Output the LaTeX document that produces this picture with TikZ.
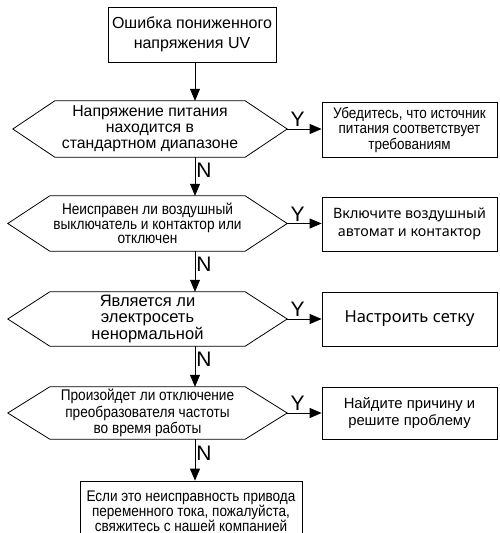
\documentclass[tikz,border=0pt]{standalone}
\usepackage{fontspec}
\setmainfont{Liberation Sans}
\newfontfamily\narrowfont[FakeStretch=0.88]{Liberation Sans}
\newfontfamily\roundfont{Noto Sans}
\usetikzlibrary{arrows.meta,calc}
\tikzset{
  procbox/.style={draw, line width=0.8pt, align=center, inner sep=0pt},
  hexbody/.style={draw=none, align=center, inner sep=0pt, minimum width=195pt},
  hexline/.style={line width=0.8pt},
  arr/.style={line width=0.8pt, -{Triangle[length=12pt,width=10pt]}},
  yn/.style={font=\fontsize{21}{21}\selectfont, inner sep=1pt},
}
\begin{document}
\begin{tikzpicture}[x=1pt,y=-1pt]
  \useasboundingbox (0,0) rectangle (499,533);
  \clip (0,0) rectangle (499,533);
  \coordinate (axis) at (195,0);

  % start box
  \node[procbox, minimum width=168pt, minimum height=55pt,
        font=\fontsize{16}{20}\selectfont] (t) at (192,34.5)
        {Ошибка пониженного\\напряжения UV};

  % decision bodies (inner rectangles of the hexagons)
  \node[hexbody, minimum width=190pt, minimum height=56pt,
        font=\fontsize{15.8}{16}\selectfont] (q1) at (150,129)
        {Напряжение питания\\находится в\\стандартном диапазоне};
  \node[hexbody, minimum height=55pt,
        font=\narrowfont\fontsize{15.5}{14.5}\selectfont] (q2) at (147.5,223.5)
        {Неисправен ли воздушный\\выключатель и контактор или\\отключен};
  \node[hexbody, minimum height=54pt,
        font=\fontsize{16.5}{16.5}\selectfont] (q3) at (147.5,319)
        {Является ли\\электросеть\\ненормальной};
  \node[hexbody, minimum height=52pt,
        font=\narrowfont\fontsize{15.5}{16.5}\selectfont] (q4) at (147.5,413)
        {Произойдет ли отключение\\преобразователя частоты\\во время работы};

  % hexagon outlines and their pointed ends
  \foreach \q in {q1,q2,q3,q4}{
    \coordinate (\q w) at ($(\q.west)-(42,0)$);
    \coordinate (\q e) at ($(\q.east)+(42,0)$);
    \draw[hexline] (\q.north west) -- (\q.north east) -- (\q e)
      -- (\q.south east) -- (\q.south west) -- (\q w) -- cycle;
  }

  % action boxes
  \node[procbox, minimum width=175pt, minimum height=55pt,
        font=\narrowfont\fontsize{15.3}{15.5}\selectfont] (a1) at (409.5,129.5)
        {Убедитесь, что источник\\питания соответствует\\требованиям};
  \node[procbox, minimum width=175pt, minimum height=54pt,
        font=\roundfont\fontsize{14.3}{18}\selectfont] (a2) at (409.5,224)
        {Включите воздушный\\автомат и контактор};
  \node[procbox, minimum width=175pt, minimum height=54pt,
        font=\roundfont\fontsize{16.5}{17}\selectfont] (a3) at (409.5,319)
        {Настроить сетку};
  \node[procbox, minimum width=175pt, minimum height=52pt,
        font=\fontsize{14.8}{17}\selectfont] (a4) at (409.5,413)
        {Найдите причину и\\решите проблему};

  % final box (runs past the lower edge)
  \node[procbox, minimum width=222pt, minimum height=60pt,
        font=\narrowfont\fontsize{15.4}{15}\selectfont] (f) at (191,511)
        {Если это неисправность привода\\переменного тока, пожалуйста,\\свяжитесь с нашей компанией};

  % main column
  \draw[arr] (t.south -| axis) -- (q1.north -| axis);
  \draw[arr] (q1.south -| axis) -- node[yn, right, pos=0.33] {N} (q2.north -| axis);
  \draw[arr] (q2.south -| axis) -- node[yn, right, pos=0.33] {N} (q3.north -| axis);
  \draw[arr] (q3.south -| axis) -- node[yn, right, pos=0.33] {N} (q4.north -| axis);
  \draw[arr] (q4.south -| axis) -- node[yn, right, pos=0.33] {N} (f.north -| axis);

  % yes branches
  \draw[arr] (q1e) -- node[yn, above, pos=0.3, yshift=1pt] {Y} (a1.west |- q1e);
  \draw[arr] (q2e) -- node[yn, above, pos=0.3, yshift=1pt] {Y} (a2.west |- q2e);
  \draw[arr] (q3e) -- node[yn, above, pos=0.3, yshift=1pt] {Y} (a3.west |- q3e);
  \draw[arr] (q4e) -- node[yn, above, pos=0.3, yshift=1pt] {Y} (a4.west |- q4e);
\end{tikzpicture}
\end{document}
